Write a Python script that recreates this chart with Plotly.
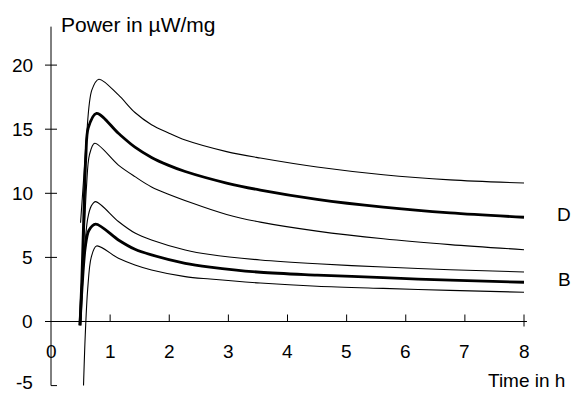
import plotly.graph_objects as go

# ---- data ----
t_d_hi = [0.50, 0.55, 0.60, 0.69, 0.81, 1.14, 1.42, 1.70, 1.98, 2.27, 2.97, 3.54, 4.5, 5.62, 6.75, 8.0]
d_hi = [7.7, 11.0, 14.4, 18.05, 18.9, 17.67, 16.3, 15.35, 14.72, 14.15, 13.25, 12.75, 12.05, 11.45, 11.05, 10.8]

t_d_mid = [0.49, 0.52, 0.55, 0.59, 0.63, 0.77, 1.14, 1.42, 1.70, 1.98, 2.27, 2.97, 3.54, 4.5, 5.62, 6.75, 8.0]
d_mid = [-0.3, 3.0, 7.5, 12.9, 15.1, 16.24, 14.68, 13.6, 12.8, 12.2, 11.7, 10.8, 10.25, 9.53, 8.92, 8.47, 8.13]

t_d_lo = [0.50, 0.55, 0.60, 0.65, 0.74, 1.14, 1.42, 1.70, 2.41, 2.97, 3.54, 4.5, 5.62, 6.75, 8.0]
d_lo = [0.0, 5.5, 10.5, 13.0, 13.9, 12.2, 11.3, 10.5, 9.2, 8.35, 7.75, 7.05, 6.45, 6.0, 5.6]

t_b_hi = [0.50, 0.55, 0.62, 0.68, 0.755, 1.14, 1.42, 1.70, 2.27, 2.69, 3.54, 4.5, 5.62, 6.75, 8.0]
b_hi = [0.0, 4.5, 8.0, 9.0, 9.35, 7.8, 6.9, 6.36, 5.58, 5.22, 4.8, 4.5, 4.25, 4.04, 3.86]

t_b_mid = [0.49, 0.53, 0.58, 0.64, 0.755, 1.14, 1.42, 1.70, 2.27, 2.69, 3.54, 4.5, 5.62, 6.75, 8.0]
b_mid = [-0.3, 3.0, 5.8, 7.1, 7.6, 6.36, 5.63, 5.19, 4.54, 4.25, 3.84, 3.62, 3.42, 3.22, 3.06]

t_b_lo = [0.55, 0.58, 0.62, 0.68, 0.77, 1.14, 1.42, 1.70, 2.27, 2.69, 3.54, 4.5, 5.62, 6.75, 8.0]
b_lo = [-5.0, -1.0, 2.5, 5.0, 5.89, 4.93, 4.41, 4.02, 3.5, 3.31, 3.0, 2.75, 2.58, 2.43, 2.28]

x_ticks = [0, 1, 2, 3, 4, 5, 6, 7, 8]
x_tick_labels = ["0", "1", "2", "3", "4", "5", "6", "7", "8"]
y_ticks = [-5, 0, 5, 10, 15, 20]
y_tick_labels = ["-5", "0", "5", "10", "15", "20"]

y_title = "Power in µW/mg"
x_title = "Time in h"
group_labels = ["D", "B"]
group_label_y = [8.35, 3.3]

# ---- layout constants ----
W, H = 574, 393
X0PX, XSC = 51.0, 59.125   # pixel of t=0, px per hour
Y0PX, YSC = 321.5, 12.82   # pixel of P=0, px per unit
xr = [(0 - X0PX) / XSC, (W - X0PX) / XSC]
yr = [(Y0PX - H) / YSC, Y0PX / YSC]
FONT = "Arial, Liberation Sans, sans-serif"
FS = 19

fig = go.Figure()
series = [
    (t_d_hi, d_hi, 1.1), (t_d_mid, d_mid, 2.8), (t_d_lo, d_lo, 1.1),
    (t_b_hi, b_hi, 1.1), (t_b_mid, b_mid, 2.8), (t_b_lo, b_lo, 1.1),
]
for tx, vy, w in series:
    fig.add_trace(go.Scatter(x=tx, y=vy, mode="lines",
                             line=dict(color="black", width=w, shape="spline", smoothing=0.9),
                             showlegend=False, hoverinfo="skip"))

shapes = []
# axes
shapes.append(dict(type="line", xref="x", yref="y", x0=0, x1=0, y0=-5, y1=23.0,
                   line=dict(color="black", width=1)))
shapes.append(dict(type="line", xref="x", yref="y", x0=0, x1=8.05, y0=0, y1=0,
                   line=dict(color="black", width=1)))
# y ticks (crossing the axis)
for v in y_ticks:
    x0 = 0 if v == -5 else -6 / XSC
    shapes.append(dict(type="line", xref="x", yref="y", x0=x0, x1=6 / XSC, y0=v, y1=v,
                       line=dict(color="black", width=1)))
# x ticks (upward)
for v in x_ticks[1:]:
    y0 = -5 / YSC if v == 8 else 0
    shapes.append(dict(type="line", xref="x", yref="y", x0=v, x1=v, y0=y0, y1=7 / YSC,
                       line=dict(color="black", width=1)))

ann = []
for v, lab in zip(y_ticks, y_tick_labels):
    ann.append(dict(x=-16 / XSC, y=v + (0.25 if v == -5 else 0), text=lab, xanchor="right",
                    yanchor="middle", showarrow=False,
                    font=dict(family=FONT, size=FS, color="black")))
for v, lab in zip(x_ticks, x_tick_labels):
    ann.append(dict(x=v, y=-30 / YSC, text=lab, xanchor="center", yanchor="middle",
                    showarrow=False, font=dict(family=FONT, size=FS, color="black")))
ann.append(dict(x=8 / XSC, y=(Y0PX - 24) / YSC, text=y_title, xanchor="left", yanchor="middle",
                showarrow=False, font=dict(family=FONT, size=21, color="black")))
ann.append(dict(x=(486 - X0PX) / XSC, y=(Y0PX - 380) / YSC, text=x_title, xanchor="left",
                yanchor="middle", showarrow=False, font=dict(family=FONT, size=FS, color="black")))
for lab, yv in zip(group_labels, group_label_y):
    ann.append(dict(x=(564 - X0PX) / XSC, y=yv, text=lab, xanchor="center", yanchor="middle",
                    showarrow=False, font=dict(family=FONT, size=FS, color="black")))

fig.update_layout(
    width=W, height=H, margin=dict(l=0, r=0, t=0, b=0),
    paper_bgcolor="white", plot_bgcolor="white",
    xaxis=dict(range=xr, visible=False, fixedrange=True),
    yaxis=dict(range=yr, visible=False, fixedrange=True),
    shapes=shapes, annotations=ann,
)
fig.write_html("out.html", config={"displayModeBar": False},
               post_script="document.body.style.margin='0';document.body.style.overflow='hidden';")
